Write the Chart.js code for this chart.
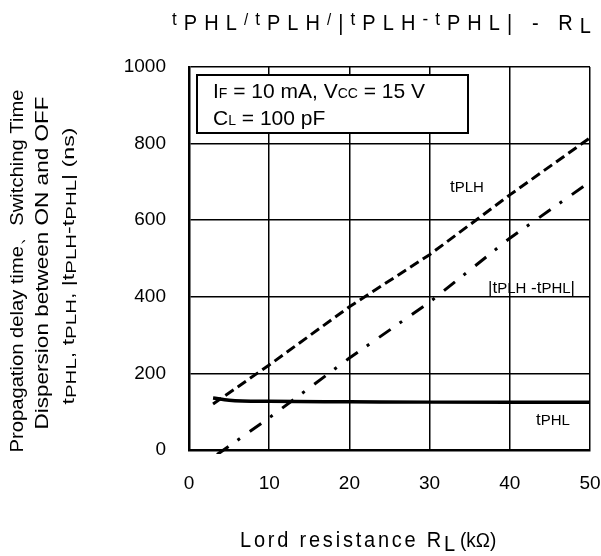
<!DOCTYPE html>
<html>
<head>
<meta charset="utf-8">
<script src="https://cdn.jsdelivr.net/npm/chart.js@4/dist/chart.umd.min.js"></script>
<style>
  html, body { margin: 0; padding: 0; background: #fff; }
  #wrap { width: 601px; height: 556px; }
</style>
</head>
<body>
<div id="wrap"><canvas id="chart" width="601" height="556"></canvas></div>
<script>
// Load resistance (kΩ) and times (ns)
const rlPLH = [3, 10, 20, 30, 40, 50];
const tPLH = [120, 222, 374, 510, 666, 815];
const rlDiff = [3.5, 10, 20, 30, 40, 50];
const tDiff = [-12, 84, 240, 386, 553, 700];
const rlPHL = [3, 5, 10, 20, 30, 40, 50];
const tPHL = [136, 130, 127, 126, 125, 125, 125];
const xTicks = [0, 10, 20, 30, 40, 50];
const yTicks = [0, 200, 400, 600, 800, 1000];

const FONT = "'Liberation Sans', Arial, sans-serif";

const pts = (xs, ys) => xs.map((x, i) => ({ x: x, y: ys[i] }));

// draws a run of text pieces with different sizes / vertical shifts
function drawRich(ctx, parts, x, y, spacing) {
    ctx.letterSpacing = (spacing || 0) + "px";
    let cx = x;
    parts.forEach(p => {
        ctx.font = p.s + "px " + FONT;
        ctx.fillText(p.t, cx, y + (p.dy || 0));
        cx += ctx.measureText(p.t).width;
    });
    ctx.letterSpacing = "0px";
    return cx - x;
}

function richWidth(ctx, parts, spacing) {
    ctx.letterSpacing = (spacing || 0) + "px";
    let w = 0;
    parts.forEach(p => {
        ctx.font = p.s + "px " + FONT;
        w += ctx.measureText(p.t).width;
    });
    ctx.letterSpacing = "0px";
    return w;
}

const charCount = parts => parts.reduce((n, p) => n + [...p.t].length, 0);

// spread letters so the run fills the given width, stretched vertically by sy
function drawSpread(ctx, parts, x, y, width, sy) {
    const sp = (width - richWidth(ctx, parts, 0)) / charCount(parts);
    ctx.save();
    ctx.translate(x, y);
    ctx.scale(1, sy);
    const w = drawRich(ctx, parts, 0, 0, sp);
    ctx.restore();
    return w;
}

const textPlugin = {
    id: "texts",
    afterDraw(chart) {
        const ctx = chart.ctx;
        ctx.save();
        ctx.fillStyle = "#000";
        ctx.textAlign = "left";
        ctx.textBaseline = "alphabetic";

        // title
        const title = [
            { t: "t", s: 17, dy: -5 }, { t: "PHL", s: 20 }, { t: "/", s: 15, dy: -5 },
            { t: "t", s: 17, dy: -5 }, { t: "PLH", s: 20 }, { t: "/", s: 15, dy: -5 },
            { t: "|", s: 20 }, { t: "t", s: 17, dy: -5 }, { t: "PLH", s: 20 },
            { t: "-", s: 17, dy: -5 }, { t: "t", s: 17, dy: -5 }, { t: "PHL", s: 20 },
            { t: "| - R", s: 20 }, { t: "L", s: 20, dy: 3 }
        ];
        drawSpread(ctx, title, 172, 30, 426, 1.08);

        // x axis title
        const w = drawSpread(ctx, [
            { t: "Lord resistance R", s: 20 }, { t: "L", s: 20, dy: 4 }
        ], 240, 547, 218, 1.08);
        ctx.save();
        ctx.translate(240 + w + 2, 547);
        ctx.scale(1, 1.08);
        drawRich(ctx, [{ t: "(kΩ)", s: 19 }], 0, 0, 0);
        ctx.restore();

        // y axis title, three rotated lines
        const yLines = [
            { x: 18, c: 271, len: 363, parts: [{ t: "Propagation delay time、Switching Time", s: 18 }] },
            { x: 43, c: 263, len: 333, parts: [{ t: "Dispersion between ON and OFF", s: 18 }] },
            { x: 71, c: 266, len: 277, parts: [
                { t: "t", s: 17, dy: -2 }, { t: "PHL", s: 15, dy: 1 }, { t: ", t", s: 17, dy: -2 },
                { t: "PLH", s: 15, dy: 1 }, { t: ", |t", s: 17, dy: -2 }, { t: "PLH", s: 15, dy: 1 },
                { t: "-t", s: 17, dy: -2 }, { t: "PHL", s: 15, dy: 1 }, { t: "| (ns)", s: 17, dy: -2 }
            ] }
        ];
        ctx.textBaseline = "middle";
        yLines.forEach(l => {
            const lw = richWidth(ctx, l.parts, 0);
            ctx.save();
            ctx.translate(l.x, l.c);
            ctx.rotate(-Math.PI / 2);
            ctx.scale(l.len / lw, 1);
            drawRich(ctx, l.parts, -lw / 2, 0, 0);
            ctx.restore();
        });
        ctx.textBaseline = "alphabetic";

        // condition box
        ctx.fillStyle = "#fff";
        ctx.fillRect(197, 75, 271, 58);
        ctx.strokeStyle = "#000";
        ctx.lineWidth = 2;
        ctx.strokeRect(197, 75, 271, 58);
        ctx.fillStyle = "#000";
        drawRich(ctx, [
            { t: "I", s: 21 }, { t: "F", s: 14 }, { t: " = 10 mA, V", s: 21 },
            { t: "CC", s: 14 }, { t: " = 15 V", s: 21 }
        ], 213, 98, 0);
        drawRich(ctx, [
            { t: "C", s: 21 }, { t: "L", s: 14 }, { t: " = 100 pF", s: 21 }
        ], 213, 125, 0);

        // curve labels
        drawRich(ctx, [{ t: "t", s: 17 }, { t: "PLH", s: 15 }], 450, 192, 0);
        drawRich(ctx, [
            { t: "|t", s: 17 }, { t: "PLH", s: 15 }, { t: " -t", s: 17 },
            { t: "PHL", s: 15 }, { t: "|", s: 17 }
        ], 488, 293, 0);
        drawRich(ctx, [{ t: "t", s: 17 }, { t: "PHL", s: 15 }], 536, 425, 0);

        ctx.restore();
    }
};

const ctx = document.getElementById("chart").getContext("2d");
new Chart(ctx, {
    type: "line",
    data: {
        datasets: [
            {
                label: "tPLH",
                data: pts(rlPLH, tPLH),
                borderColor: "#000",
                borderWidth: 3,
                borderDash: [10, 5],
                pointRadius: 0,
                tension: 0,
            },
            {
                label: "|tPLH-tPHL|",
                data: pts(rlDiff, tDiff),
                borderColor: "#000",
                borderWidth: 3,
                borderDash: [14, 11, 3, 12],
                pointRadius: 0,
                tension: 0,
                clip: 4,
            },
            {
                label: "tPHL",
                data: pts(rlPHL, tPHL),
                borderColor: "#000",
                borderWidth: 3.5,
                pointRadius: 0,
                cubicInterpolationMode: "monotone",
            },
        ],
    },
    options: {
        responsive: false,
        animation: false,
        layout: { padding: { top: 67, right: 11, left: 0, bottom: 0 } },
        plugins: {
            legend: { display: false },
            tooltip: { enabled: false },
        },
        scales: {
            x: {
                type: "linear",
                min: 0,
                max: 50,
                afterBuildTicks: s => { s.ticks = xTicks.map(v => ({ value: v })); },
                afterFit: s => { s.height = 106; s.paddingLeft = 0; s.paddingRight = 0; },
                ticks: { color: "#000", font: { family: FONT, size: 19 }, padding: 22, callback: v => String(v) },
                grid: { color: "#000", lineWidth: 1.5, drawTicks: false },
                border: { color: "#000", width: 2.5 },
            },
            y: {
                min: 0,
                max: 1000,
                afterBuildTicks: s => { s.ticks = yTicks.map(v => ({ value: v })); },
                afterFit: s => { s.width = 189; s.paddingTop = 0; s.paddingBottom = 0; },
                ticks: { color: "#000", font: { family: FONT, size: 19 }, padding: 23, callback: v => String(v) },
                grid: { color: "#000", lineWidth: 1.5, drawTicks: false },
                border: { color: "#000", width: 2.5 },
            },
        },
    },
    plugins: [textPlugin],
});
</script>
</body>
</html>
